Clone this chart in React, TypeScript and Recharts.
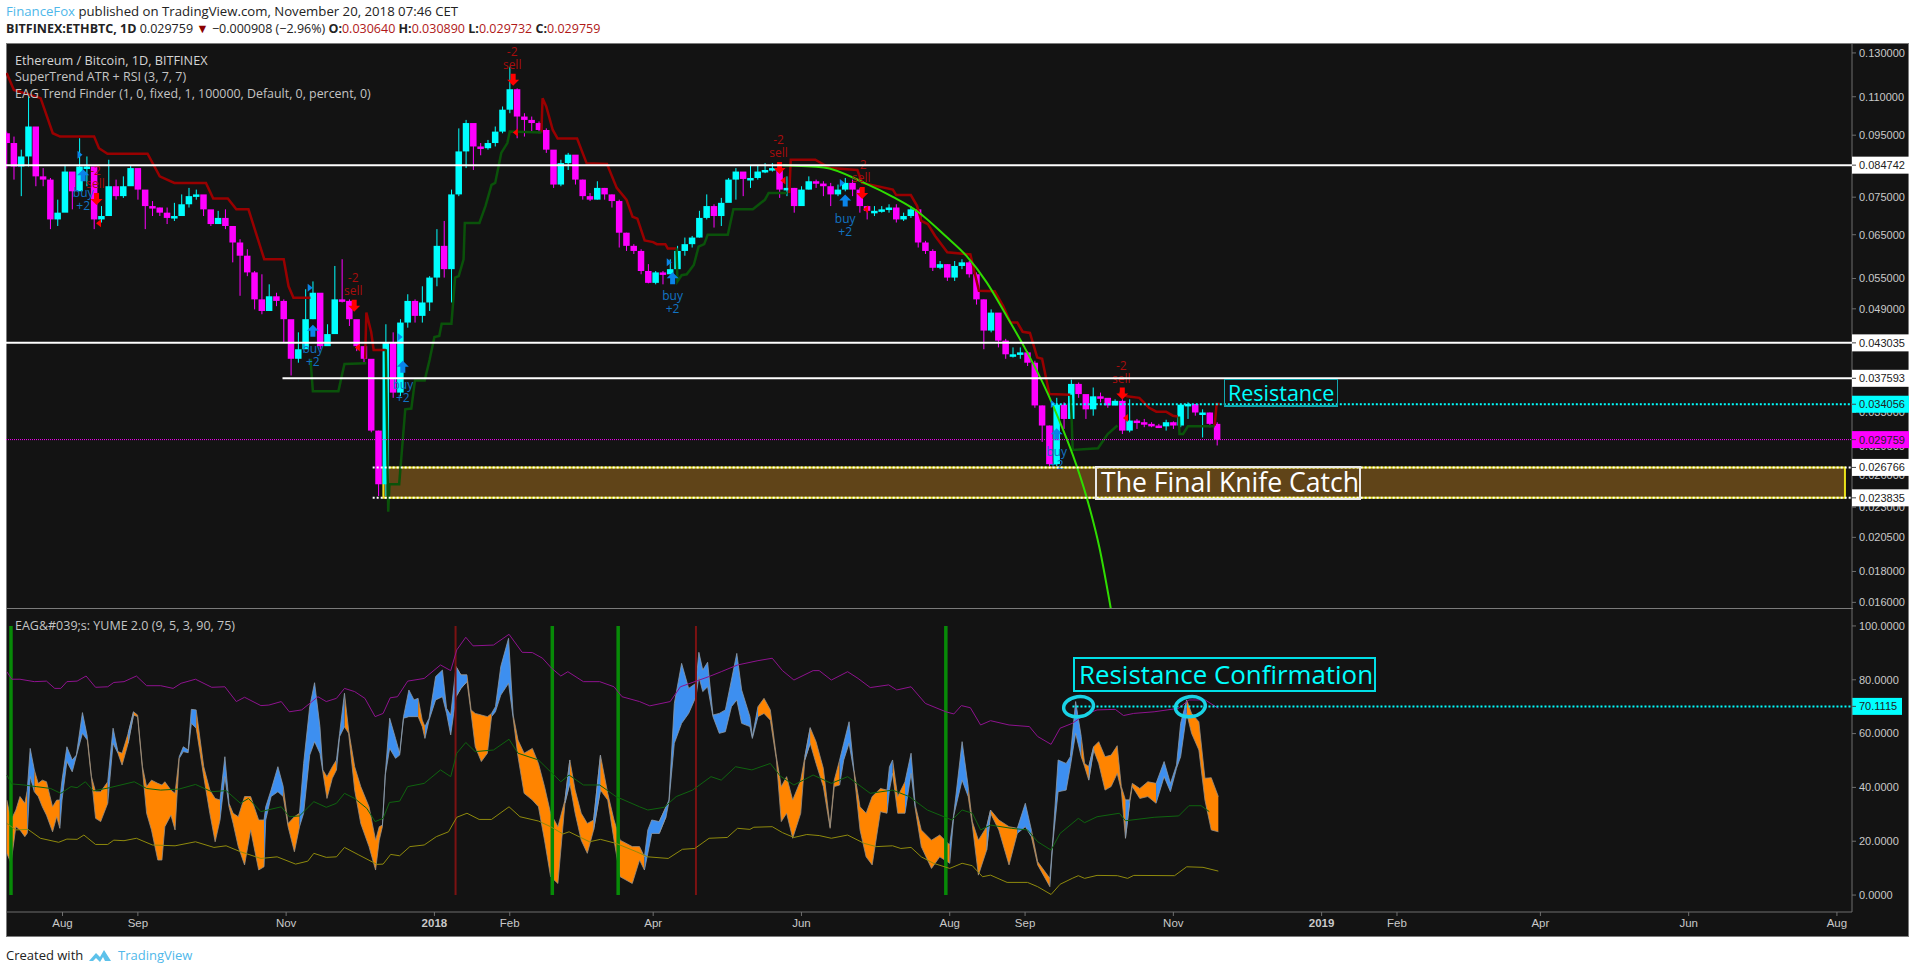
import React from 'react';
import {
  ComposedChart, Bar, Line, Area, XAxis, YAxis, ReferenceLine, ReferenceArea, ReferenceDot,
} from 'recharts';

// day 0 = 1 Aug 2017, one candle every 3 days from day -23
const firstDay = -23;
const firstOpen = 0.0957;
const closes = [
  0.0922, 0.0843, 0.0876, 0.0982, 0.0812, 0.0802, 0.0689, 0.0707, 0.0827, 0.0767,
  0.0843, 0.0843, 0.0689, 0.0698, 0.0782, 0.0753, 0.0782, 0.0838, 0.0772, 0.0725,
  0.0721, 0.0707, 0.0693, 0.0698, 0.073, 0.0753, 0.0758, 0.0716, 0.0677, 0.0693,
  0.0672, 0.0631, 0.06, 0.0563, 0.0508, 0.0486, 0.0514, 0.0505, 0.0471, 0.0405,
  0.042, 0.0471, 0.0521, 0.0425, 0.0445, 0.0508, 0.0505, 0.0471, 0.0425, 0.0405,
  0.0308, 0.0251, 0.0431, 0.0356, 0.0465, 0.0505, 0.0477, 0.0502, 0.0552, 0.0623,
  0.057, 0.0758, 0.0893, 0.0995, 0.091, 0.0904, 0.0922, 0.0963, 0.1047, 0.1132,
  0.102, 0.1007, 0.0995, 0.0969, 0.0899, 0.0787, 0.0854, 0.0882, 0.0802, 0.0753,
  0.0743, 0.0777, 0.0758, 0.0739, 0.0655, 0.0623, 0.0611, 0.0566, 0.0541, 0.0563,
  0.0559, 0.057, 0.0611, 0.0627, 0.0643, 0.0693, 0.0725, 0.0698, 0.0734, 0.0802,
  0.0827, 0.0804, 0.0807, 0.0827, 0.0832, 0.0838, 0.0772, 0.0777, 0.0725, 0.0772,
  0.0797, 0.079, 0.0782, 0.0758, 0.0772, 0.0792, 0.0772, 0.0725, 0.0712, 0.0712,
  0.0716, 0.0721, 0.0689, 0.0698, 0.0716, 0.0631, 0.0611, 0.0573, 0.0581, 0.0552,
  0.0577, 0.0585, 0.0559, 0.0508, 0.0451, 0.0483, 0.0434, 0.0412, 0.0412, 0.0415,
  0.0399, 0.0339, 0.0314, 0.0271, 0.034, 0.0322, 0.0368, 0.0354, 0.0334, 0.0351,
  0.0349, 0.0339, 0.0345, 0.0308, 0.032, 0.0318, 0.0316, 0.0314, 0.0313, 0.0318,
  0.0314, 0.034, 0.0341, 0.033, 0.033, 0.0316, 0.029759,
];
const highs = [
  0.0963, 0.0945, 0.0899, 0.1101, 0.0838, 0.0838, 0.0807, 0.0743, 0.0848, 0.0812,
  0.0939, 0.0876, 0.0772, 0.0725, 0.0865, 0.0802, 0.0812, 0.0848, 0.0832, 0.0743,
  0.0739, 0.0721, 0.0721, 0.0734, 0.0758, 0.0777, 0.0772, 0.0739, 0.0698, 0.0712,
  0.0716, 0.0672, 0.0639, 0.0615, 0.0566, 0.0559, 0.0538, 0.0521, 0.0508, 0.0431,
  0.0448, 0.0528, 0.0544, 0.0508, 0.0462, 0.0577, 0.0592, 0.0508, 0.0459, 0.0423,
  0.0392, 0.0308, 0.0462, 0.0448, 0.0471, 0.0518, 0.0508, 0.0534, 0.0555, 0.0664,
  0.0685, 0.0772, 0.0975, 0.1007, 0.0988, 0.0922, 0.0933, 0.0982, 0.106, 0.1234,
  0.1136, 0.1033, 0.102, 0.1001, 0.0975, 0.0882, 0.0865, 0.0888, 0.0832, 0.0802,
  0.0762, 0.0797, 0.0777, 0.0758, 0.0743, 0.0655, 0.0627, 0.0615, 0.0581, 0.0566,
  0.0566, 0.0592, 0.0623, 0.0643, 0.0647, 0.0712, 0.0758, 0.073, 0.0748, 0.0807,
  0.0838, 0.0822, 0.0848, 0.0848, 0.0854, 0.0854, 0.0843, 0.0812, 0.0777, 0.0782,
  0.0812, 0.0802, 0.0797, 0.0792, 0.0787, 0.0807, 0.0802, 0.0777, 0.0721, 0.0725,
  0.0725, 0.073, 0.073, 0.0707, 0.0725, 0.0716, 0.0635, 0.0615, 0.0588, 0.0581,
  0.0588, 0.0592, 0.0588, 0.0563, 0.0508, 0.0489, 0.0471, 0.0437, 0.0423, 0.0423,
  0.0417, 0.0402, 0.0339, 0.0314, 0.0349, 0.0343, 0.0374, 0.037, 0.0351, 0.0363,
  0.0356, 0.0347, 0.0347, 0.0347, 0.0347, 0.0322, 0.0322, 0.0318, 0.0316, 0.0321,
  0.0319, 0.0341, 0.0343, 0.0334, 0.0334, 0.033, 0.0318,
];
const lows = [
  0.0837, 0.0802, 0.0753, 0.0843, 0.0782, 0.0782, 0.0664, 0.0672, 0.0772, 0.0716,
  0.0812, 0.0782, 0.0664, 0.0681, 0.0743, 0.0743, 0.0748, 0.0797, 0.0743, 0.0664,
  0.0698, 0.0698, 0.0677, 0.0685, 0.0716, 0.0721, 0.0743, 0.0698, 0.0672, 0.0677,
  0.0664, 0.0585, 0.0515, 0.0555, 0.0489, 0.048, 0.0502, 0.0495, 0.0431, 0.038,
  0.0399, 0.0425, 0.0471, 0.042, 0.0437, 0.0448, 0.0502, 0.0459, 0.0417, 0.0399,
  0.0306, 0.024, 0.024, 0.0349, 0.0351, 0.0456, 0.0465, 0.0465, 0.0486, 0.0534,
  0.0552, 0.0502, 0.0753, 0.0838, 0.0832, 0.088, 0.0899, 0.091, 0.0957, 0.1033,
  0.0939, 0.0945, 0.0963, 0.0957, 0.0888, 0.0777, 0.0782, 0.0832, 0.0787, 0.0743,
  0.0739, 0.0743, 0.0743, 0.0721, 0.0619, 0.0611, 0.0604, 0.0559, 0.054, 0.0538,
  0.0538, 0.0559, 0.0577, 0.06, 0.0619, 0.0643, 0.0689, 0.0668, 0.0672, 0.0743,
  0.0743, 0.0753, 0.0777, 0.0802, 0.0822, 0.0827, 0.0748, 0.0753, 0.0707, 0.0753,
  0.0772, 0.0777, 0.0753, 0.0725, 0.0753, 0.0767, 0.0753, 0.0707, 0.0689, 0.0698,
  0.0707, 0.0707, 0.0681, 0.0685, 0.0693, 0.0619, 0.0604, 0.0566, 0.057, 0.0545,
  0.0545, 0.057, 0.0552, 0.0498, 0.042, 0.0448, 0.0423, 0.0405, 0.0407, 0.0405,
  0.0394, 0.0336, 0.0295, 0.0269, 0.0269, 0.031, 0.0322, 0.0349, 0.0322, 0.0326,
  0.0343, 0.0336, 0.0339, 0.0304, 0.0306, 0.031, 0.0312, 0.0312, 0.0311, 0.0308,
  0.031, 0.0312, 0.0322, 0.0326, 0.03, 0.0312, 0.0291,
];

// SuperTrend, null breaks the line where it flips
const redDays = [
  -23, -20, -9, -4, -1, 13, 15, 18.5, 35, 40, 46, 59, 62, 68, 71.5, 76.5, 83, 91, 93, 95, 102, null,
  124.5, 125, 127, 128, 133, null,
  197, 197.5, 199, 201.7, 203.7, 211.7, 215.6, 224, 228, 232, 234.5, 236.5, 239.5, 243, 244.5, 248, 249, 252.6, null,
  299, 299.6, 309.7, 315.6, 327, 329, 341.6, 343, 349, 351.6, 353.3, 356, 359, 364, 373.5, 377, 383.5, 387, 390, 392.8, 395, 398, 401, 403, 406, 414.6, null,
  434.6, 437.9, 443, 447, 450, 454, 456.8, 458.8, null,
  474, 474.8, 476,
];
const redPrices = [
  0.1204, 0.1129, 0.1094, 0.0957, 0.0945, 0.0945, 0.0904, 0.0885, 0.0885, 0.0812, 0.0792, 0.0792, 0.0746, 0.0746, 0.0716, 0.0716, 0.0592, 0.0592, 0.0534, 0.0511, 0.0511, null,
  0.0405, 0.0483, 0.0448, 0.0419, 0.0419, null,
  0.096, 0.1094, 0.106, 0.0969, 0.0938, 0.0938, 0.0854, 0.0851, 0.0777, 0.0743, 0.0696, 0.0691, 0.0636, 0.0632, 0.0627, 0.0627, 0.0617, 0.0617, null,
  0.0762, 0.0865, 0.0865, 0.0838, 0.0832, 0.0792, 0.0772, 0.0756, 0.0756, 0.0725, 0.0685, 0.0677, 0.0647, 0.0608, 0.0603, 0.0525, 0.0524, 0.0495, 0.0465, 0.0465, 0.0449, 0.0447, 0.0407, 0.0405, 0.0354, 0.0353, null,
  0.0356, 0.0351, 0.0349, 0.0336, 0.0331, 0.0331, 0.0326, 0.0325, null,
  0.0314, 0.0341, 0.0341,
];
const greenDays = [
  102, 103, 113.5, 116, 125, null,
  133, 134, 134.5, 138.5, 141, 143.5, 145, 149, 151, 153, 155, 156, 160, 161.5, 163, 165, 165.5, 171.5, 174, 176.5, 178, 180.5, 183, 184, 197, null,
  252.6, 253, 254.7, 256.8, 259.7, 261.7, 264, 265.4, 273.7, 276, 284, 289, 290.5, 298, null,
  414.8, 415.6, 426, 430, 434, null,
  459.3, 459.5, 461, 463, 474,
];
const greenPrices = [
  0.0405, 0.0358, 0.0358, 0.0397, 0.0398, null,
  0.042, 0.0226, 0.0251, 0.0251, 0.0334, 0.0335, 0.0373, 0.0373, 0.0403, 0.044, 0.0442, 0.0463, 0.0463, 0.0552, 0.0555, 0.0592, 0.068, 0.068, 0.0725, 0.0786, 0.0792, 0.0888, 0.0922, 0.0963, 0.096, null,
  0.0617, 0.0544, 0.0557, 0.0559, 0.0579, 0.0621, 0.0627, 0.065, 0.065, 0.0716, 0.0716, 0.0743, 0.0762, 0.0762, null,
  0.0353, 0.0286, 0.0288, 0.0304, 0.0314, null,
  0.0325, 0.0304, 0.0304, 0.0313, 0.0313,
];
const arcDays = [296.3, 313.2, 329.6, 341.6, 351.6, 363.4, 371.8, 380.2, 388.5, 395.5, 405.3, 410.1, 415.6, 421.3, 426.6, 431.3];
const arcPrices = [0.0847, 0.084, 0.0793, 0.0751, 0.0711, 0.0646, 0.06, 0.0542, 0.0476, 0.0425, 0.0355, 0.032, 0.0281, 0.0239, 0.0197, 0.0156];

const sellDays = [14, 120, 185.4, 295, 329, 436];
const sellPrices = [0.0739, 0.0492, 0.1165, 0.0832, 0.0756, 0.0352];
const buyDays = [8.5, 103, 140, 251, 322, 409];
const buyPrices = [0.0822, 0.0454, 0.0396, 0.0555, 0.0746, 0.0306];
const sellFlagDays = [15, 121.5, 186.5, 296.6, 330.6, 437.5];
const sellFlagPrices = [0.0679, 0.0423, 0.096, 0.0799, 0.0716, 0.0323];
const buyFlagDays = [7, 101.7, 138.7, 249.4, 320.6, 407.4];
const buyFlagPrices = [0.0882, 0.0531, 0.044, 0.0585, 0.0792, 0.0341];

const priceTicks = [0.13, 0.11, 0.095, 0.075, 0.065, 0.055, 0.049, 0.033, 0.029, 0.026, 0.023, 0.0205, 0.018, 0.016];
const oscTicks = [0, 20, 40, 60, 80, 100];
const timeTicks = [0, 31, 92, 153, 184, 243, 304, 365, 396, 457, 518, 549, 608, 669, 730];
const timeLabels = ['Aug', 'Sep', 'Nov', '2018', 'Feb', 'Apr', 'Jun', 'Aug', 'Sep', 'Nov', '2019', 'Feb', 'Apr', 'Jun', 'Aug'];

// YUME band, 1 = blue, 0 = orange
const bandDays = [
  -22.9, -21.2, -19.2, -17.5, -15.5, -14.5, -13.3, -11.6, -10, -8.3,
  -6.6, -4.1, -2.4, -1.1, -0.2, 1.8, 4, 5.7, 8.2, 10.2,
  11.9, 13.6, 15.7, 18.6, 20.8, 22.8, 24.5, 27, 29.2, 30.9,
  32.9, 34.6, 36.6, 39.2, 40.9, 42.1, 44.6, 46.3, 48, 49.7,
  51.7, 53, 55, 58.1, 60.6, 62.8, 64.8, 66.8, 68.5, 70.2,
  72.3, 74.9, 77.4, 80.7, 82.9, 83.6, 85.8, 88.6, 90.8, 92.8,
  95.4, 97.5, 99.2, 101.7, 103.7, 105.9, 107.1, 108.8, 111, 112.7,
  114, 116, 117.7, 120.2, 122.7, 126.1, 128.8, 130.3, 131.6, 132.8,
  134.6, 137, 138.7, 140.3, 142.5, 144.6, 146.3, 148, 149.1, 150.8,
  153.5, 156.3, 158, 159.7, 161.9, 163.9, 166.4, 168.1, 169.8, 172.3,
  174.8, 176.5, 178.1, 180.3, 183.5, 185.4, 187.4, 189.9, 193.3, 195.8,
  198.3, 200.8, 203.8, 206.7, 208.7, 210.9, 213.4, 215.9, 218.5, 221.3,
  224.3, 226.9, 229.4, 234.4, 237.4, 239.4, 240.8, 242.4, 245.5, 248.3,
  249.5, 251.7, 254.7, 257.6, 260.6, 261.8, 263.4, 265.4, 267.6, 270.2,
  272.7, 275.2, 277.4, 279.4, 282.8, 283.8, 286.1, 288.6, 291.2, 293.7,
  295.7, 297.9, 300.4, 303.7, 305.4, 307.6, 310, 313, 315.8, 317.5,
  319.7, 321.4, 323.6, 325.6, 328.1, 330.6, 333.1, 336.5, 339.2, 340.2,
  341.5, 343.6, 346.6, 349.1, 350.8, 353.3, 357.5, 360.9, 365, 366.7,
  370.1, 372.6, 374.3, 376.8, 380.2, 381.8, 385.2, 389.4, 392.8, 396.1,
  398.6, 401.2, 406.2, 407.4, 409.6, 412.9, 414.6, 416.8, 419.1, 420.5,
  422.2, 424.2, 426.3, 428.9, 431.4, 433.9, 435.6, 437.3, 439, 440.1,
  443.2, 446.5, 449.9, 453.2, 455.8, 458.3, 460, 462.5, 464.5, 467.5,
  470, 472.6, 475.5,
];
const bandHigh = [
  35.3, 27.9, 31.6, 36.6, 34.1, 39, 54.5, 46.5, 41.5, 42.7,
  42.1, 32.8, 35.3, 35.3, 42.7, 55.1, 50.2, 52, 67.8, 58.9,
  44, 38.4, 38.4, 42.1, 62, 53.3, 52.7, 60.1, 68.1, 66.9,
  47.7, 40.3, 42.7, 41.5, 40.9, 42.1, 39, 37.8, 51.4, 55.1,
  53.9, 69, 68.8, 47.7, 39, 35.9, 35.3, 51.4, 34.1, 30.4,
  29.1, 36.6, 36.6, 27.9, 27.9, 32.8, 39, 47.7, 40.3, 26.6,
  29.1, 30.4, 48.9, 70, 78.9, 62.6, 46.5, 44, 47.7, 50.2,
  60.1, 75, 61.3, 47.7, 40.3, 32.8, 20.4, 25.4, 26, 45.2,
  65.7, 58.2, 52.7, 66.3, 76.2, 72.5, 73.1, 65, 62.6, 65.7,
  81.2, 83.6, 69.4, 66.9, 84.9, 81.8, 81.8, 68.8, 67.5, 66.9,
  66.3, 67.5, 70, 84.9, 95.4, 66.9, 57.6, 52.7, 54.5, 48.9,
  40.3, 30.4, 25.4, 35.3, 50.2, 39, 30.4, 26.6, 27.9, 52,
  37.8, 27.9, 20.4, 18, 18, 14.2, 24.2, 27.9, 27.3, 32.8,
  35.3, 71.2, 86.1, 76.8, 78.7, 90.2, 83.6, 86.5, 66.9, 67.5,
  68.8, 79.9, 89.8, 76.2, 66.3, 58.9, 70, 73.1, 68.8, 51.4,
  40.3, 44, 35.3, 42.7, 51.4, 62.2, 57, 47.1, 25.4, 42.7,
  50.2, 56.4, 64.4, 46.5, 32.8, 30.4, 36.6, 39.6, 39, 47.7,
  50.2, 36.6, 42.1, 52.7, 33.5, 24.2, 20.4, 22.3, 18.6, 30.4,
  57, 40.3, 27.3, 20.4, 25.4, 31.6, 27.9, 25.4, 24.8, 34.1,
  24.2, 12.4, 6.2, 20.4, 50.2, 48.9, 51.4, 71.9, 58.9, 48.9,
  47.7, 55.1, 57, 51.4, 52, 55.5, 40.3, 35.3, 35.3, 41.5,
  39.6, 42.1, 41.5, 49.6, 41.5, 48.3, 63.8, 72.5, 67.5, 64.4,
  43.4, 43.6, 36.6,
];
const bandLow = [
  15.5, 11.8, 25.4, 24.2, 21.7, 23, 44, 38.4, 36.6, 32.8,
  29.7, 23.5, 29.1, 24.8, 35.3, 49.6, 45.8, 51.7, 60.1, 57.6,
  43.4, 28.5, 27.3, 34.1, 56.4, 52.7, 48.3, 56.4, 66.9, 66.3,
  46.5, 30.4, 24.2, 13, 13, 25.4, 29.7, 24.2, 50.8, 53.3,
  52.9, 63.8, 62, 44, 30.4, 19.8, 27.9, 44, 32.8, 26.6,
  18, 11.2, 24.2, 9.3, 10.5, 27.9, 36.6, 38.4, 36.6, 25.4,
  16.1, 25.4, 30.4, 52, 57, 52.7, 45.8, 35.9, 43.4, 46.5,
  58.9, 62.6, 60.1, 39, 26.6, 18, 9.3, 20.4, 25.4, 44.6,
  54.5, 50.8, 52, 65.7, 66.3, 66.3, 66.3, 62.6, 58.2, 65,
  72.5, 73.7, 67.5, 59.5, 73.7, 76.8, 79.3, 67.5, 55.1, 49.6,
  52.7, 66.3, 68.1, 74.3, 78.7, 65.7, 51.4, 37.8, 35.3, 32.8,
  20.4, 6.8, 4.3, 34.1, 41.5, 30.4, 20.4, 15.5, 24.2, 39,
  35.3, 20.4, 6.8, 4.3, 13, 9.3, 15.5, 22.9, 22.9, 29.1,
  34.7, 56.4, 63.8, 67.5, 73.7, 81.2, 75.6, 77.4, 66.3, 60.1,
  60.7, 70, 72.5, 63.8, 62.6, 58.2, 66.3, 67.5, 65, 50.2,
  27.3, 30.4, 21.1, 30.4, 50.2, 56.4, 48.9, 40.3, 24.8, 40.3,
  40.9, 50.2, 56.4, 45.8, 24.2, 14.2, 11.2, 31, 30.4, 39,
  45.2, 30.4, 30.4, 45.2, 32.2, 18, 9.9, 14.2, 11.8, 29.7,
  42.7, 36.6, 26, 7.4, 16.7, 30.4, 24.2, 11.2, 22.9, 25.4,
  21.7, 11.2, 3.1, 19.2, 38.4, 39, 47.7, 60.1, 51.4, 47.7,
  42.7, 53.9, 48.9, 39, 40.3, 45.2, 39, 21.1, 34.1, 40.3,
  35.9, 36.6, 34.1, 44, 38.4, 47.1, 51.4, 67.5, 60.1, 53.9,
  35.3, 24.2, 23.5,
];
const bandUp = [
  0, 0, 0, 0, 0, 0, 1, 1, 0, 0,
  0, 0, 0, 0, 1, 1, 1, 1, 1, 1,
  0, 0, 0, 0, 1, 1, 0, 0, 1, 0,
  0, 0, 0, 0, 0, 0, 0, 0, 0, 1,
  1, 1, 1, 0, 0, 0, 0, 1, 1, 0,
  0, 0, 0, 0, 0, 1, 1, 1, 1, 0,
  0, 0, 1, 1, 1, 1, 1, 0, 0, 0,
  1, 1, 0, 0, 0, 0, 0, 0, 0, 1,
  1, 1, 1, 1, 1, 1, 1, 0, 0, 1,
  1, 1, 1, 1, 1, 0, 1, 0, 0, 0,
  0, 0, 1, 1, 1, 1, 0, 0, 0, 0,
  0, 0, 0, 0, 1, 0, 0, 0, 0, 1,
  0, 0, 0, 0, 0, 0, 1, 1, 1, 0,
  1, 1, 1, 1, 1, 1, 1, 1, 1, 1,
  1, 1, 1, 1, 1, 1, 1, 0, 0, 0,
  0, 0, 0, 0, 0, 1, 0, 0, 0, 0,
  0, 1, 1, 1, 0, 0, 0, 0, 0, 1,
  1, 0, 0, 1, 1, 0, 0, 0, 0, 1,
  1, 1, 0, 0, 0, 1, 0, 0, 0, 1,
  1, 0, 0, 1, 1, 1, 1, 1, 1, 0,
  0, 1, 0, 0, 0, 0, 0, 0, 1, 0,
  0, 0, 0, 1, 1, 1, 1, 1, 0, 0,
  0, 0, 0,
];

const purpleDays = [
  -22.9, -20.9, -17.5, -11.6, -6.6, -3.2, -0.7, 1.8, 6, 9.7, 13.6, 18.6, 21.1, 25.3, 30.4, 34.6, 40.4, 45.5, 48.8, 54.7,
  61.4, 66.8, 71.5, 74.9, 81.6, 84.9, 90, 93.3, 98.4, 105.1, 108.5, 112.7, 116, 120.2, 124.4, 128.6, 131.9, 134.8, 137.8, 142,
  148.8, 155.5, 159.7, 162.2, 165.9, 168.9, 177.3, 183.7, 189.1, 193.3, 197.5, 201.2, 205, 207.9, 214.3, 221, 226.9, 230.2, 237.4, 241.6,
  250, 254.2, 266, 271, 277.7, 286.1, 292, 296.2, 300.9, 308.8, 311.3, 316.3, 323, 327.3, 332.3, 339.9, 343.2, 349.1, 355, 363.4,
  366.7, 369.8, 373.5, 377.7, 381.8, 389.4, 397.8, 401.2, 406.7, 410.4, 415.4, 420.5, 425.6, 433.1, 436.5, 440.7, 449.1, 459.2, 463.4, 470.1, 475.5,
];
const purpleValues = [
  83, 80.2, 80.2, 79.3, 79.5, 76.8, 76.8, 79.3, 79.5, 81.4, 77.2, 77.4, 79, 79.3, 81.4, 77.8, 77.8, 76.8, 78.7, 80.2,
  77.2, 77.4, 71.9, 73.5, 70.4, 70.6, 71.9, 68.1, 68.8, 73.7, 71.9, 73.1, 76.8, 75.6, 73.1, 66.3, 67.5, 73.3, 73.7, 79.5,
  80.5, 85.5, 83.4, 91.1, 95.8, 92.6, 92.9, 96.9, 90.2, 90.1, 88, 84.3, 81.4, 83, 79.3, 79.3, 77.4, 73.7, 71.9, 70.3,
  71.9, 77.4, 81.2, 83, 85.5, 87.1, 88, 83.4, 79.9, 83.4, 83.4, 79.9, 83, 80.5, 77.1, 78.1, 76.2, 77.4, 71.2, 68.1,
  67.3, 70.4, 69.6, 63.2, 64.8, 63.2, 62.6, 58.9, 56, 62, 63.8, 66.9, 68.8, 69, 66.7, 67.5, 68.1, 69.4, 72.5, 72.5, 69.4,
];
const darkGreenDays = [
  -22.9, -20.9, -15.9, -10.8, -4.9, -0.7, 3.5, 6, 9.4, 12.7, 19.4, 29.5, 34.6, 40.4, 48, 54.7, 61.4, 67.3, 73.2, 76.5,
  81.6, 90, 93.3, 97.5, 103.4, 108.5, 112.7, 116, 120.2, 125.2, 128.6, 131.9, 134.5, 138.7, 142, 148.8, 155.5, 159.7, 162.2, 165.9,
  169.8, 177.3, 183.7, 187.4, 195.8, 200.8, 205, 208.4, 214.3, 221, 227.7, 237.4, 240.8, 247.5, 252.5, 259.2, 266.8, 271, 276.9, 283.6,
  291.2, 295.3, 300.9, 308.8, 316.3, 323, 332.3, 341.5, 348.3, 355.8, 365.9, 370.1, 374.3, 377.7, 381.8, 390.3, 397, 401.2, 406.7, 410.4,
  417.9, 420.5, 425.6, 434.8, 437.3, 449.1, 459.2, 463.4, 468.4, 471.8,
];
const darkGreenValues = [
  44.6, 41.3, 40.9, 40.3, 39.6, 37.8, 40.3, 39.9, 42.1, 38.7, 39.9, 42.1, 39.6, 39, 39.4, 41.1, 38.4, 38.8, 34.1, 35.9,
  31, 32.8, 29.1, 29.4, 34.7, 32.6, 34.1, 37.8, 35.9, 32.2, 27.3, 28.5, 34.4, 34.9, 40.3, 41.5, 46.5, 44, 52.7, 56.7,
  53.3, 53.9, 57.9, 52.7, 50.2, 45.8, 42.1, 44.6, 40.9, 40.9, 36.6, 32.8, 31.6, 32.6, 36.6, 39, 44, 42.7, 47.7, 46.5,
  48.9, 44.2, 40.9, 44.6, 41.5, 44, 37.8, 39, 36.6, 31.6, 27.9, 31.6, 30.4, 24.2, 26, 24.8, 24.2, 19.8, 16.7, 22.9,
  28.5, 26.9, 29.1, 30.4, 27.6, 28.9, 29.4, 33.2, 33.2, 31,
];
const oliveDays = [
  -22.9, -19.2, -14.2, -9.1, -1.6, 1.8, 6, 8.8, 13.6, 18.6, 21.1, 25.3, 30.4, 37, 46.3, 54.7, 62.3, 67.3, 73.2, 81.6,
  88.3, 95.9, 100.9, 103.4, 108.5, 112.7, 116, 121.9, 129.4, 131.9, 135, 138.7, 142.9, 148.8, 153.8, 158.8, 162.2, 166.4, 171.4, 176.5,
  183.7, 188.2, 195.8, 200.8, 205.9, 208.4, 216.8, 221.3, 227.7, 236.1, 240.8, 249.2, 255, 260.1, 266, 273.5, 277.7, 282.8, 284.4, 292,
  296.2, 300.9, 306.2, 311.3, 316.3, 323, 329.8, 334.8, 341.5, 344.9, 349.1, 353.3, 358.3, 365, 370.1, 374.3, 378.5, 381.8, 388.6, 397,
  401.2, 406.7, 410.4, 415.4, 417.9, 420.5, 425.6, 434, 438.2, 440.7, 457.5, 462.5, 469.2, 475.5,
];
const oliveValues = [
  26.6, 24.2, 24.4, 21.1, 19.6, 20.8, 20.7, 22.3, 18.8, 18.8, 20.4, 20.2, 21.1, 18.6, 18.3, 19.8, 17.7, 18.3, 16.1, 13.6,
  14.2, 11.5, 12.6, 15.5, 14, 14.2, 17.7, 14.9, 11.4, 11.5, 15.1, 14.6, 18, 18.6, 21.7, 23.5, 28.9, 30.4, 28.1, 28.1,
  32.8, 29.1, 27.5, 25.4, 22.7, 23.5, 19.8, 20.7, 19.2, 16.1, 14.2, 13.6, 17, 17.3, 21.1, 21.4, 24.8, 24.4, 25.2, 25.4,
  23.2, 21.4, 22.5, 22.1, 21.1, 22.3, 19.2, 18, 18.3, 17.3, 17.7, 14.2, 11.8, 9.9, 11.8, 10.9, 6.8, 7.4, 4.7, 4.7,
  3.1, 0.2, 4, 6.2, 7.2, 6.2, 7.3, 7.2, 6.2, 7.3, 7.2, 10.5, 10.3, 8.9,
];
const greenSignalDays = [-21.2, 201.5, 228.6, 363.4];
const redSignalDays = [161.7, 260.6];
const circleDays = [418, 464];

const CYAN = '#00ffff';
const MAGENTA = '#ff00ff';
const PANEL = '#131313';
const AXIS = '#6f6f6f';
const TICK = '#c9c9c9';
const PRICE_DOMAIN = [0.0156, 0.1345];
const OSC_DOMAIN = [-6.3, 106.3];
const TIME_DOMAIN = [-23.25, 736.2];

const candles = closes.map((close, i) => {
  const open = i === 0 ? firstOpen : closes[i - 1];
  return {
    day: firstDay + i * 3,
    body: [Math.min(open, close), Math.max(open, close)],
    wick: [lows[i], highs[i]],
    color: close >= open ? CYAN : MAGENTA,
  };
});

const pairs = (xs: (number | null)[], ys: (number | null)[]) => xs.map((day, i) => ({ day, v: ys[i] }));

const bandRows = bandDays.map((day, i) => {
  const range = [bandLow[i], bandHigh[i]];
  const next = i + 1 < bandUp.length ? bandUp[i + 1] : bandUp[i];
  return {
    day,
    blue: bandUp[i] === 1 || next === 1 ? range : null,
    orange: bandUp[i] === 0 || next === 0 ? range : null,
  };
});

// bar width on a number axis gets squeezed, so the part is drawn around the centre the scale gives
const candlePart = (w: number) => ({ x, y, width, height, payload }: any) => (
  <rect
    x={x + width / 2 - w / 2} y={Math.min(y, y + height)} width={w}
    height={Math.max(Math.abs(height), 2.5)} fill={payload.color}
  />
);
const WickShape = candlePart(1);
const BodyShape = candlePart(6.5);

// price tag sitting on the axis at the end of a line
function AxisTag({ viewBox, text, fill, color = '#222', width = 57 }: any) {
  const x = viewBox.x + viewBox.width;
  return (
    <g>
      <rect x={x} y={viewBox.y - 8.5} width={width} height={17} fill={fill} />
      <line x1={x} x2={x + 4} y1={viewBox.y} y2={viewBox.y} stroke="#444" />
      <text x={x + 7} y={viewBox.y + 4} fontSize={11} fontFamily="Liberation Sans" fill={color}>{text}</text>
    </g>
  );
}

const markerText = { fontSize: 12, fontFamily: 'Open Sans', textAnchor: 'middle' as const };

function SellMark({ cx, cy }: any) {
  return (
    <g>
      <text x={cx - 1} y={cy - 26} fill="#a80d0d" {...markerText}>-2</text>
      <text x={cx - 1} y={cy - 13} fill="#a80d0d" {...markerText}>sell</text>
      <path d={`M${cx} ${cy + 4}l-6 -6h3.5v-6h5v6h3.5z`} fill="#ff0000" />
    </g>
  );
}

function BuyMark({ cx, cy }: any) {
  return (
    <g>
      <path d={`M${cx} ${cy - 4}l-6 6h3.5v6h5v-6h3.5z`} fill="#0a84e8" />
      <text x={cx} y={cy + 24} fill="#1273c4" {...markerText}>buy</text>
      <text x={cx} y={cy + 37} fill="#1273c4" {...markerText}>+2</text>
    </g>
  );
}

const SellFlag = ({ cx, cy }: any) => <path d={`M${cx - 3} ${cy}l5 -4v8z`} fill="#ff0000" />;
const BuyFlag = ({ cx, cy }: any) => <path d={`M${cx + 3} ${cy}l-5 -4v8z`} fill="#0a84e8" />;
const HandCircle = ({ cx, cy }: any) => (
  <ellipse cx={cx} cy={cy} rx={15} ry={10} fill="none" stroke="#19d3e6" strokeWidth={3.5} transform={`rotate(-8 ${cx} ${cy})`} />
);

function TimeTick({ x, y, payload }: any) {
  const label = timeLabels[timeTicks.indexOf(payload.value)];
  const bold = label === '2018' || label === '2019';
  return (
    <text x={x} y={y + 9} textAnchor="middle" fontSize={11.5} fontFamily="Liberation Sans" fontWeight={bold ? 700 : 400} fill={TICK}>
      {label}
    </text>
  );
}

const tickStyle = { fontSize: 11, fontFamily: 'Liberation Sans', fill: TICK };

const text = (left: number, top: number, size: number, color: string, extra = {}): React.CSSProperties => ({
  position: 'absolute', left, top, fontSize: size, color, fontFamily: 'Open Sans', whiteSpace: 'nowrap', lineHeight: 1, ...extra,
});

function PriceChart() {
  return (
    <ComposedChart width={1916} height={609} data={candles} margin={{ top: 44, right: 7, bottom: 0, left: 6 }}>
      <XAxis dataKey="day" type="number" domain={TIME_DOMAIN} allowDataOverflow hide />
      <XAxis xAxisId="wick" dataKey="day" type="number" domain={TIME_DOMAIN} allowDataOverflow hide />
      <YAxis
        orientation="right" width={57} scale="log" type="number" domain={PRICE_DOMAIN} allowDataOverflow
        ticks={priceTicks} interval={0} tickFormatter={(v: number) => v.toFixed(6)}
        tick={tickStyle} tickSize={4} tickMargin={3} stroke={AXIS}
      />
      <ReferenceArea x1={132} x2={733.3} y1={0.023835} y2={0.026766} fill="#e89a20" fillOpacity={0.36} stroke="#e9e21a" strokeWidth={2} />
      <Line data={pairs(redDays, redPrices)} dataKey="v" stroke="#990000" strokeWidth={2.5} dot={false} activeDot={false} isAnimationActive={false} />
      <Line data={pairs(greenDays, greenPrices)} dataKey="v" stroke="#0a520a" strokeWidth={2.5} dot={false} activeDot={false} isAnimationActive={false} />
      <Bar xAxisId="wick" dataKey="wick" shape={WickShape} isAnimationActive={false} />
      <Bar dataKey="body" shape={BodyShape} isAnimationActive={false} />
      <Line data={pairs(arcDays, arcPrices)} dataKey="v" type="monotone" stroke="#2fdc00" strokeWidth={2} dot={false} activeDot={false} isAnimationActive={false} />
      {sellDays.map((d, i) => <ReferenceDot key={`sell-${i}`} x={d} y={sellPrices[i]} shape={SellMark} />)}
      {buyDays.map((d, i) => <ReferenceDot key={`buy-${i}`} x={d} y={buyPrices[i]} shape={BuyMark} />)}
      {sellFlagDays.map((d, i) => <ReferenceDot key={`sf-${i}`} x={d} y={sellFlagPrices[i]} shape={SellFlag} />)}
      {buyFlagDays.map((d, i) => <ReferenceDot key={`bf-${i}`} x={d} y={buyFlagPrices[i]} shape={BuyFlag} />)}
    </ComposedChart>
  );
}

// second layer with the same scales, so the drawn levels and their tags cover the axis ticks
function PriceLevels() {
  return (
    <ComposedChart width={1916} height={609} data={candles} margin={{ top: 44, right: 64, bottom: 0, left: 6 }}>
      <XAxis dataKey="day" type="number" domain={TIME_DOMAIN} allowDataOverflow hide />
      <YAxis hide scale="log" type="number" domain={PRICE_DOMAIN} allowDataOverflow />
      <ReferenceLine y={0.084742} stroke="#fff" strokeWidth={2} label={<AxisTag text="0.084742" fill="#fff" />} />
      <ReferenceLine y={0.043035} stroke="#fff" strokeWidth={2} label={<AxisTag text="0.043035" fill="#fff" />} />
      <ReferenceLine
        segment={[{ x: 90.5, y: 0.037593 }, { x: 736.2, y: 0.037593 }]} stroke="#fff" strokeWidth={2}
        label={<AxisTag text="0.037593" fill="#fff" />}
      />
      <ReferenceLine
        segment={[{ x: 407, y: 0.034056 }, { x: 736.2, y: 0.034056 }]} stroke={CYAN} strokeWidth={2} strokeDasharray="2 2"
        label={<AxisTag text="0.034056" fill={CYAN} />}
      />
      <ReferenceLine y={0.029759} stroke={MAGENTA} strokeWidth={1} strokeDasharray="1 1" label={<AxisTag text="0.029759" fill={MAGENTA} />} />
      <ReferenceLine
        segment={[{ x: 127.6, y: 0.026766 }, { x: 736.2, y: 0.026766 }]} stroke="#fff" strokeWidth={2} strokeDasharray="2 2"
        label={<AxisTag text="0.026766" fill="#fff" />}
      />
      <ReferenceLine
        segment={[{ x: 127.6, y: 0.023835 }, { x: 736.2, y: 0.023835 }]} stroke="#fff" strokeWidth={2} strokeDasharray="2 2"
        label={<AxisTag text="0.023835" fill="#fff" />}
      />
    </ComposedChart>
  );
}

function OscChart() {
  return (
    <ComposedChart width={1916} height={328} data={bandRows} margin={{ top: 0, right: 7, bottom: 0, left: 6 }}>
      <XAxis
        dataKey="day" type="number" domain={TIME_DOMAIN} allowDataOverflow height={25} ticks={timeTicks} interval={0}
        tick={<TimeTick />} tickSize={4} stroke={AXIS}
      />
      <YAxis
        orientation="right" width={57} type="number" domain={OSC_DOMAIN} allowDataOverflow ticks={oscTicks} interval={0}
        tickFormatter={(v: number) => v.toFixed(4)} tick={tickStyle} tickSize={4} tickMargin={3} stroke={AXIS}
      />
      {greenSignalDays.map((d) => (
        <ReferenceLine key={`g-${d}`} segment={[{ x: d, y: 0 }, { x: d, y: 100 }]} stroke="#078a07" strokeWidth={3.5} />
      ))}
      {redSignalDays.map((d) => (
        <ReferenceLine key={`r-${d}`} segment={[{ x: d, y: 0 }, { x: d, y: 100 }]} stroke="#7c1212" strokeWidth={2} />
      ))}
      <Line data={pairs(purpleDays, purpleValues)} dataKey="v" stroke="#8e128e" strokeWidth={1} dot={false} activeDot={false} isAnimationActive={false} />
      <Line data={pairs(darkGreenDays, darkGreenValues)} dataKey="v" stroke="#0f640f" strokeWidth={1} dot={false} activeDot={false} isAnimationActive={false} />
      <Line data={pairs(oliveDays, oliveValues)} dataKey="v" stroke="#8f8a0c" strokeWidth={1} dot={false} activeDot={false} isAnimationActive={false} />
      <Area dataKey="orange" fill="#ff8400" fillOpacity={1} stroke="#9a8f80" strokeWidth={0.8} dot={false} activeDot={false} isAnimationActive={false} />
      <Area dataKey="blue" fill="#3d8ff0" fillOpacity={1} stroke="#8d9aa8" strokeWidth={0.8} dot={false} activeDot={false} isAnimationActive={false} />
      <ReferenceLine
        segment={[{ x: 415.5, y: 70.1115 }, { x: 736.2, y: 70.1115 }]} stroke={CYAN} strokeWidth={2} strokeDasharray="2 2"
        label={<AxisTag text="70.1115" fill={CYAN} width={50} />}
      />
      {circleDays.map((d) => <ReferenceDot key={`c-${d}`} x={d} y={70} shape={HandCircle} />)}
    </ComposedChart>
  );
}

export default function App() {
  return (
    <div style={{ position: 'relative', width: 1916, height: 973, background: '#fff', overflow: 'hidden' }}>
      <style>{'body{margin:0}'}</style>

      <div style={text(6, 5, 13.2, '#222')}>
        <span style={{ color: '#4fb8ea' }}>FinanceFox</span> published on TradingView.com, November 20, 2018 07:46 CET
      </div>
      <div style={text(6, 23, 12.5, '#222')}>
        <b>BITFINEX:ETHBTC, 1D</b> 0.029759 <span style={{ color: '#8b0000' }}>▼</span> −0.000908 (−2.96%) <b>O:</b>
        <span style={{ color: '#b01818' }}>0.030640</span> <b>H:</b><span style={{ color: '#b01818' }}>0.030890</span>{' '}
        <b>L:</b><span style={{ color: '#b01818' }}>0.029732</span> <b>C:</b><span style={{ color: '#b01818' }}>0.029759</span>
      </div>

      <div style={{ position: 'absolute', left: 6, top: 43, width: 1903, height: 894, background: PANEL, border: '1px solid #7b7b7b', boxSizing: 'border-box' }} />
      <div style={{ position: 'absolute', left: 0, top: 0 }}><PriceChart /></div>
      <div style={{ position: 'absolute', left: 0, top: 0 }}><PriceLevels /></div>
      <div style={{ position: 'absolute', left: 0, top: 609 }}><OscChart /></div>
      <div style={{ position: 'absolute', left: 6, top: 608, width: 1847, height: 1, background: '#7b7b7b' }} />

      <div style={text(15, 54, 12.7, '#d4d4d4')}>Ethereum / Bitcoin, 1D, BITFINEX</div>
      <div style={text(15, 71, 12.5, '#c4c4c4')}>SuperTrend ATR + RSI (3, 7, 7)</div>
      <div style={text(15, 88, 12.4, '#c4c4c4')}>EAG Trend Finder (1, 0, fixed, 1, 100000, Default, 0, percent, 0)</div>
      <div style={text(15, 620, 12.5, '#c4c4c4')}>EAG&amp;#039;s: YUME 2.0 (9, 5, 3, 90, 75)</div>

      <div style={text(1224, 379, 21.5, CYAN, { width: 114, height: 28, boxSizing: 'border-box', border: '1px solid #12a5ad', borderBottomWidth: 2, paddingLeft: 3, lineHeight: '25px' })}>Resistance</div>
      <div style={text(1095, 466, 26.6, '#fff', { width: 266, height: 34, boxSizing: 'border-box', border: '2px solid #e8e8e8', paddingLeft: 4, lineHeight: '29px' })}>The Final Knife Catch</div>
      <div style={text(1073, 657, 25.9, CYAN, { width: 303, height: 35, boxSizing: 'border-box', border: '2px solid #00dfe6', paddingLeft: 4, lineHeight: '30px' })}>Resistance Confirmation</div>

      <div style={text(6, 949, 13, '#222')}>Created with</div>
      <svg style={{ position: 'absolute', left: 88, top: 947 }} width={24} height={17} viewBox="0 0 24 17">
        <path d="M1 14 L8 6 L12 10 L16 3 L23 14 L17 14 L15 10 L12 15 L8 11 L5 14 Z" fill="#5cc1ea" />
      </svg>
      <div style={text(118, 949, 13, '#4fb8ea')}>TradingView</div>
    </div>
  );
}
